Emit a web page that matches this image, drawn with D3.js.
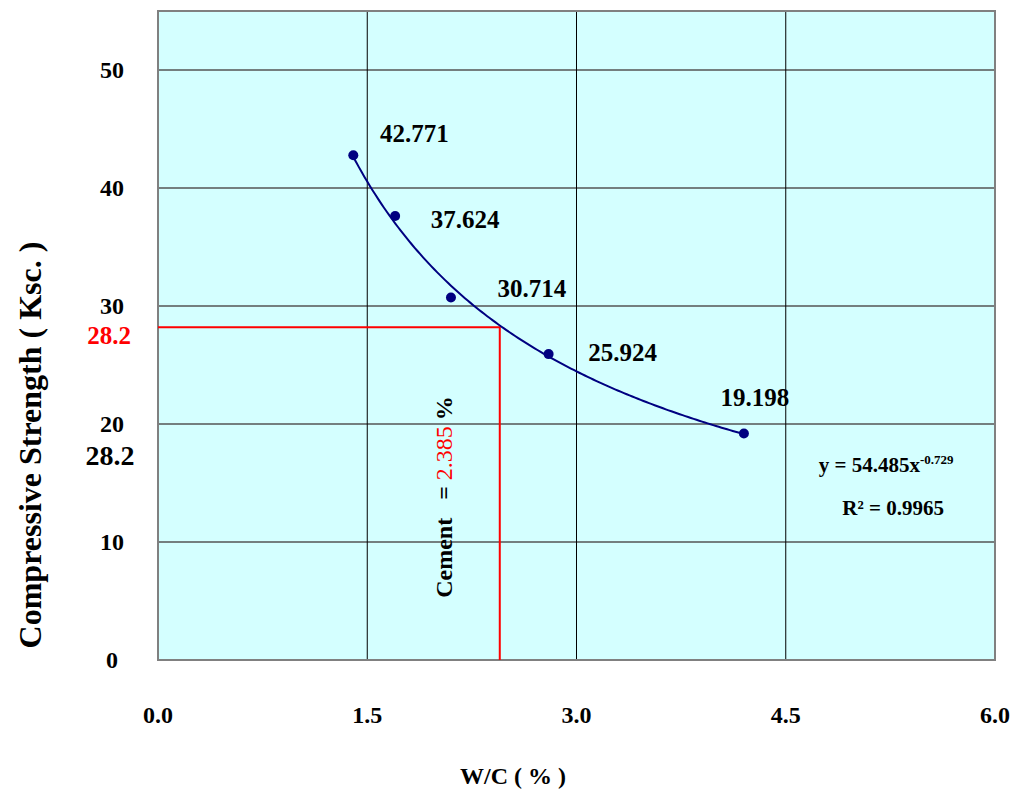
<!DOCTYPE html>
<html>
<head>
<meta charset="utf-8">
<script src="https://cdn.jsdelivr.net/npm/d3@7"></script>
<style>
  body { margin: 0; background: #fff; }
  text { font-family: "Liberation Serif", "Times New Roman", serif; font-weight: bold; }
</style>
</head>
<body>
<svg id="chart" width="1014" height="789"></svg>
<script>
// data
var wcValues = [1.4, 1.7, 2.1, 2.8, 4.2];
var strengthValues = [42.771, 37.624, 30.714, 25.924, 19.198];
var xTicks = [0, 1.5, 3.0, 4.5, 6.0];
var yTicks = [0, 10, 20, 30, 40, 50];
// power trendline y = a * x^b
var trendA = 54.485;
var trendB = -0.729;
var targetStrength = 28.2;
var targetWC = 2.45;

// label offsets (px) from each point
var labelOffsets = [[61, -22], [70, 3], [81, -9], [74, -2], [11, -36]];

var dims = { width: 1014, height: 789, margin: { top: 11, right: 19, bottom: 129, left: 158 } };
var w = dims.width - dims.margin.left - dims.margin.right;
var h = dims.height - dims.margin.top - dims.margin.bottom;

var svg = d3.select("#chart");
var g = svg.append("g").attr("transform", `translate(${dims.margin.left},${dims.margin.top})`);

var xScale = d3.scaleLinear().domain([0, 6]).range([0, w]);
var yScale = d3.scaleLinear().domain([0, 55]).range([h, 0]);

// plot background
g.append("rect").attr("width", w).attr("height", h).attr("fill", "#d4ffff");

// horizontal gridlines
g.selectAll(".hgrid")
  .data(yTicks.filter(d => d > 0))
  .enter().append("line")
  .attr("x1", 0).attr("x2", w)
  .attr("y1", d => yScale(d)).attr("y2", d => yScale(d))
  .attr("stroke", "#555").attr("stroke-width", 1.4);

// vertical gridlines
g.selectAll(".vgrid")
  .data(xTicks.filter(d => d > 0 && d < 6))
  .enter().append("line")
  .attr("x1", d => xScale(d)).attr("x2", d => xScale(d))
  .attr("y1", 0).attr("y2", h)
  .attr("stroke", "#000").attr("stroke-width", 1);

// border
g.append("rect").attr("width", w).attr("height", h)
  .attr("fill", "none").attr("stroke", "#808080").attr("stroke-width", 2);

// red guide lines
g.append("path")
  .attr("d", `M${xScale(0)},${yScale(targetStrength)}H${xScale(targetWC)}V${yScale(0)}`)
  .attr("fill", "none").attr("stroke", "#ff0000").attr("stroke-width", 2);

// trendline
var trendX = d3.range(d3.min(wcValues), d3.max(wcValues) + 0.001, 0.02);
var line = d3.line().x(d => xScale(d)).y(d => yScale(trendA * Math.pow(d, trendB))).curve(d3.curveBasis);
g.append("path").datum(trendX)
  .attr("d", line)
  .attr("fill", "none").attr("stroke", "#000080").attr("stroke-width", 2);

// points
g.selectAll(".pt")
  .data(wcValues)
  .enter().append("circle")
  .attr("cx", d => xScale(d))
  .attr("cy", (d, i) => yScale(strengthValues[i]))
  .attr("r", 5)
  .attr("fill", "#000080");

// point labels
g.selectAll(".lbl")
  .data(wcValues)
  .enter().append("text")
  .attr("x", (d, i) => xScale(d) + labelOffsets[i][0])
  .attr("y", (d, i) => yScale(strengthValues[i]) + labelOffsets[i][1])
  .attr("dy", "0.35em")
  .attr("text-anchor", "middle")
  .style("font-size", "25px")
  .text((d, i) => strengthValues[i].toFixed(3));

// y tick labels
g.selectAll(".ytick")
  .data(yTicks)
  .enter().append("text")
  .attr("x", -46).attr("y", d => yScale(d))
  .attr("dy", "0.35em").attr("text-anchor", "middle")
  .style("font-size", "24px")
  .text(d => d);

// x tick labels
g.selectAll(".xtick")
  .data(xTicks)
  .enter().append("text")
  .attr("x", d => xScale(d)).attr("y", h + 55)
  .attr("dy", "0.35em").attr("text-anchor", "middle")
  .style("font-size", "24px")
  .text(d => d.toFixed(1));

// extra 28.2 labels
g.append("text")
  .attr("x", -49).attr("y", yScale(targetStrength) + 8)
  .attr("dy", "0.35em").attr("text-anchor", "middle")
  .attr("fill", "#ff0000").style("font-size", "25px")
  .text(targetStrength);
g.append("text")
  .attr("x", -48).attr("y", yScale(targetStrength) + 128)
  .attr("dy", "0.35em").attr("text-anchor", "middle")
  .style("font-size", "28px")
  .text(targetStrength);

// rotated cement label
var cem = g.append("text")
  .attr("transform", `translate(${xScale(targetWC) - 56},${yScale(0) - 163}) rotate(-90)`)
  .attr("dy", "0.35em").attr("text-anchor", "middle")
  .style("font-size", "24px");
cem.append("tspan").text("Cement\u00a0\u00a0\u00a0= ");
cem.append("tspan").attr("fill", "#ff0000").style("font-weight", "normal").text("2.385");
cem.append("tspan").text(" %");

// equation
var eq = g.append("text")
  .attr("x", xScale(5.22)).attr("y", yScale(15.9))
  .attr("text-anchor", "middle").style("font-size", "21px");
eq.append("tspan").text("y = 54.485x");
eq.append("tspan").attr("dy", -8).style("font-size", "13px").text("-0.729");
g.append("text")
  .attr("x", xScale(5.27)).attr("y", yScale(12.3))
  .attr("text-anchor", "middle").style("font-size", "21px")
  .text("R\u00b2 = 0.9965");

// axis titles
svg.append("text")
  .attr("x", 513).attr("y", 776)
  .attr("dy", "0.35em").attr("text-anchor", "middle")
  .style("font-size", "24px")
  .text("W/C ( % )");
svg.append("text")
  .attr("transform", "translate(30,445) rotate(-90)")
  .attr("dy", "0.35em").attr("text-anchor", "middle")
  .style("font-size", "32px")
  .text("Compressive Strength ( Ksc. )");
</script>
</body>
</html>
